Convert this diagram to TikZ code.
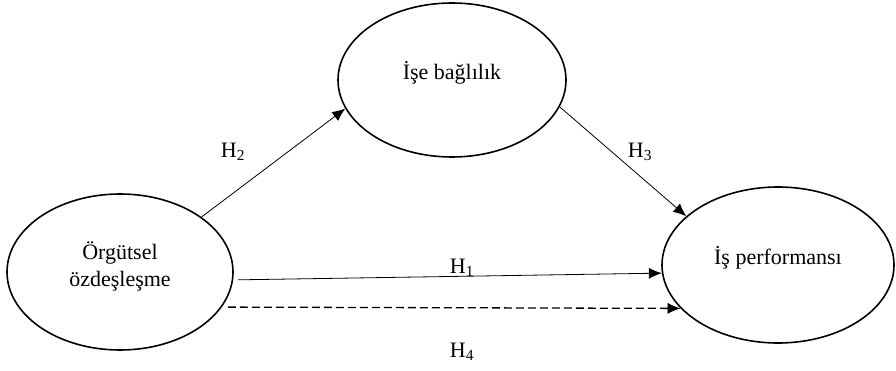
\documentclass[tikz,border=0pt]{standalone}
\usepackage{fontspec}
\setmainfont{Liberation Serif}
\usetikzlibrary{arrows.meta,shapes.geometric}

\tikzset{
  construct/.style={draw, ellipse, line width=1.6pt, inner sep=0pt},
  ctext/.style={align=center, inner sep=0pt, font=\fontsize{22}{27}\selectfont},
  link/.style={line width=0.8pt, -{Latex[length=13pt,width=11pt]}},
  hyp/.style={font=\fontsize{22}{26}\selectfont}
}

\begin{document}
\begin{tikzpicture}[x=1pt,y=-1pt]
  \useasboundingbox (0,0) rectangle (896,371);
  % constructs
  \node[construct, minimum width=226pt, minimum height=156pt] (org) at (120,272) {};
  \node[construct, minimum width=228pt, minimum height=154pt] (bag) at (452,80) {};
  \node[construct, minimum width=232pt, minimum height=156pt] (perf) at (778,265) {};
  \node[ctext] (orgtext) at ([yshift=5.5pt]org.center) {Örgütsel\\özdeşleşme};
  \node[ctext] (bagtext) at ([yshift=7pt]bag.center) {İşe bağlılık};
  \node[ctext] (perftext) at ([yshift=7pt]perf.center) {İş performansı};
  % paths
  \draw[link] (org.34.5) -- (bag.195);
  \draw[link] (bag.-14) -- (perf.152.7);
  \draw[link, shorten <=5pt] (org.-4) -- (perf.184);
  \draw[link, line width=1.3pt, dash pattern=on 8pt off 4pt, shorten <=6pt,
    -{Latex[length=13pt,width=11pt,line width=0.8pt]}] (org.-19) -- (perf.204);
  % hypotheses
  \node[hyp] (h2) at (233,152) {H\textsubscript{2}};
  \node[hyp] (h3) at (640,152) {H\textsubscript{3}};
  \node[hyp] (h1) at (462,268) {H\textsubscript{1}};
  \node[hyp] (h4) at (462,352) {H\textsubscript{4}};
\end{tikzpicture}
\end{document}
